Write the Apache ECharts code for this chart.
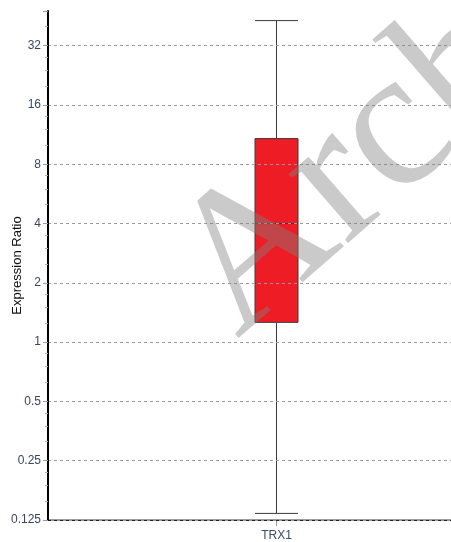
<!DOCTYPE html>
<html>
<head>
<meta charset="utf-8">
<script src="https://cdn.jsdelivr.net/npm/echarts@6/dist/echarts.min.js"></script>
<style>
  html, body { margin: 0; padding: 0; background: #fff; }
  #chart { width: 451px; height: 542px; }
</style>
</head>
<body>
<div id="chart"></div>
<script>
// Gene on the category axis
const categories = ['TRX1'];
// Box statistics per gene: [lower whisker, Q1, median, Q3, upper whisker]
const boxValues = [[0.135, 1.26, 4, 10.8, 42.9]];
// Range of the log2 expression axis
const yMin = 0.125;
const yMax = 48;

const gridColors = ['#222', '#9a9a9a', '#9a9a9a', '#9a9a9a', '#9a9a9a',
                    '#9a9a9a', '#9a9a9a', '#9a9a9a', '#9a9a9a'];

const chart = echarts.init(document.getElementById('chart'), null, { renderer: 'canvas' });

chart.setOption({
  animation: false,
  backgroundColor: '#fff',
  grid: { left: 48, right: -54, top: 11, bottom: 22, containLabel: false, outerBoundsMode: 'none' },
  xAxis: {
    type: 'category',
    data: categories,
    boundaryGap: true,
    axisLine: { show: true, lineStyle: { color: '#9a9a9a', width: 2 } },
    axisTick: { show: true, alignWithLabel: true, length: 6, lineStyle: { color: '#9a9a9a' } },
    axisLabel: {
      margin: 10,
      color: '#3a4a6a',
      fontFamily: 'Liberation Sans, Arial, sans-serif',
      fontSize: 12
    },
    splitLine: { show: false }
  },
  yAxis: {
    type: 'log',
    logBase: 2,
    min: yMin,
    max: yMax,
    splitNumber: 8,
    z: 5,
    name: 'Expression Ratio',
    nameLocation: 'middle',
    nameGap: 24,
    nameMoveOverlap: false,
    nameTextStyle: {
      color: '#111',
      fontFamily: 'Liberation Sans, Arial, sans-serif',
      fontSize: 13
    },
    axisLine: { show: true, lineStyle: { color: '#000', width: 2 } },
    axisTick: { show: true, length: 5, lineStyle: { color: '#9a9a9a' } },
    minorTick: { show: true, splitNumber: 4, length: 3, lineStyle: { color: '#aaa' } },
    axisLabel: {
      margin: 7,
      color: '#3a4560',
      fontFamily: 'Liberation Sans, Arial, sans-serif',
      fontSize: 12,
      showMaxLabel: false,
      formatter: function (v) { return String(+v.toPrecision(6)); }
    },
    splitLine: {
      show: true,
      showMaxLine: false,
      lineStyle: { color: gridColors, type: [3, 3], width: 1 }
    },
    minorSplitLine: { show: false }
  },
  series: [{
    type: 'boxplot',
    data: boxValues,
    boxWidth: [43, 43],
    itemStyle: { color: '#ee1c24', borderColor: '#3a3a3a', borderWidth: 1 },
    emphasis: { disabled: true }
  }],
  graphic: [{
    type: 'text',
    z: 100,
    x: 203,
    y: 300,
    rotation: 41 * Math.PI / 180,
    silent: true,
    style: {
      text: 'Arch',
      font: '198px "Liberation Serif", "Times New Roman", serif',
      fill: 'rgba(128,128,128,0.42)',
      align: 'left',
      verticalAlign: 'middle'
    }
  }]
});
</script>
</body>
</html>
